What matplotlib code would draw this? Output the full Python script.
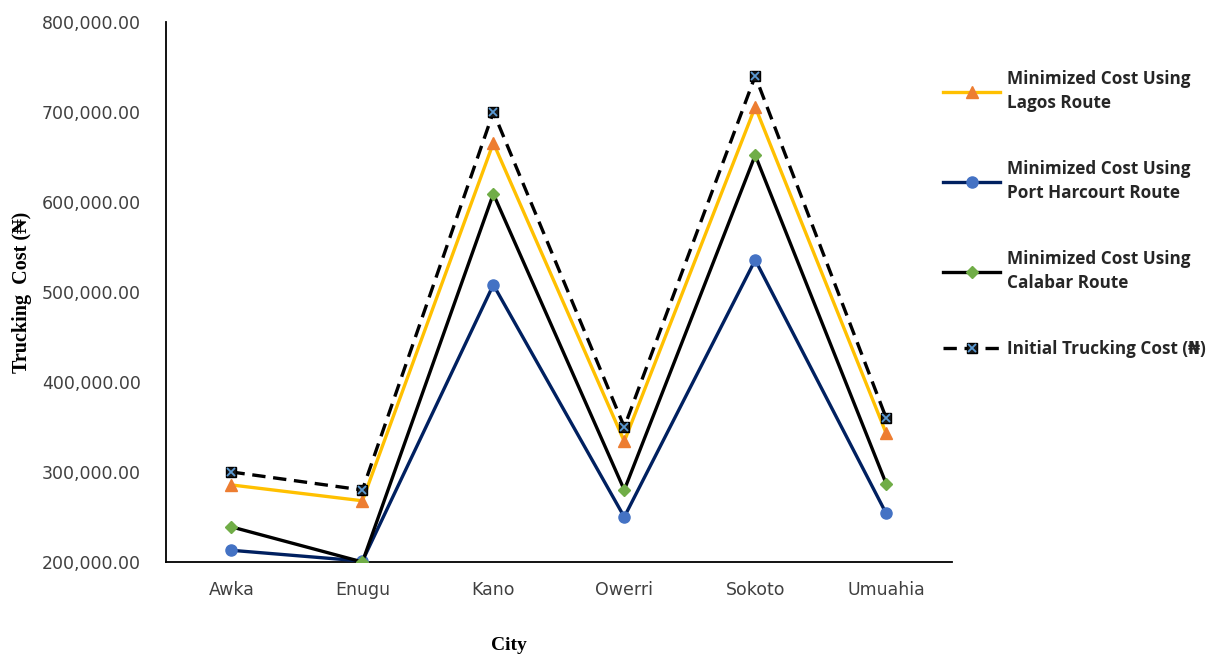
import matplotlib.pyplot as plt
from matplotlib.ticker import FuncFormatter
from matplotlib.lines import Line2D

# trucking cost per destination city (naira)
cities = ["Awka", "Enugu", "Kano", "Owerri", "Sokoto", "Umuahia"]
lagos_cost = [285600, 268000, 665600, 334000, 705600, 343000]
port_harcourt_cost = [213000, 201000, 508000, 250000, 535600, 254000]
calabar_cost = [239000, 200000, 609000, 280000, 652000, 287000]
initial_cost = [300000, 280000, 700000, 350000, 740000, 360000]

fig = plt.figure(figsize=(12.18, 6.55), dpi=100)
ax = fig.add_axes([0.1363, 0.142, 0.645, 0.8244])

x = list(range(len(cities)))
lw = 2.4
dash = (0, (4, 2.3))

ax.plot(x, lagos_cost, color="#FFC000", lw=lw, marker="^", ms=9,
        mfc="#ED7D31", mec="#ED7D31", zorder=3)
ax.plot(x, port_harcourt_cost, color="#002060", lw=lw, marker="o", ms=8,
        mfc="#4472C4", mec="#4472C4", zorder=3)
ax.plot(x, calabar_cost, color="black", lw=lw, marker="D", ms=6,
        mfc="#70AD47", mec="#70AD47", zorder=4)
ax.plot(x, initial_cost, color="black", lw=lw, ls=dash, marker="s", ms=7,
        mfc="#1a1a1a", mec="black", zorder=5)
ax.plot(x, initial_cost, ls="none", marker="x", ms=6, mew=1.3, color="#5B9BD5", zorder=6)

ax.set_xlim(-0.5, len(cities) - 0.5)
ax.set_ylim(200000, 800000)
ax.set_yticks(range(200000, 800001, 100000))
ax.yaxis.set_major_formatter(FuncFormatter(lambda v, p: f"{v:,.2f}"))
ax.set_xticks(x)
ax.set_xticklabels(cities)
ax.tick_params(axis="both", length=0, labelsize=12.5, colors="#404040")
ax.tick_params(axis="y", pad=18)
ax.tick_params(axis="x", pad=14)
for lbl in ax.get_xticklabels() + ax.get_yticklabels():
    lbl.set_family("DejaVu Sans")

for s in ["top", "right"]:
    ax.spines[s].set_visible(False)
for s in ["left", "bottom"]:
    ax.spines[s].set_linewidth(1.3)
    ax.spines[s].set_color("black")

serif = ["Liberation Serif", "DejaVu Serif"]
ax.set_ylabel("Trucking  Cost (₦)", family=serif, fontweight="bold", fontsize=14.5)
ax.set_xlabel("City", family=serif, fontweight="bold", fontsize=14)
ax.yaxis.set_label_coords(-0.171, 0.5)
ax.xaxis.set_label_coords(0.437, -0.138)

handles = [
    Line2D([], [], color="#FFC000", lw=lw, marker="^", ms=9, mfc="#ED7D31", mec="#ED7D31"),
    Line2D([], [], color="#002060", lw=lw, marker="o", ms=8, mfc="#4472C4", mec="#4472C4"),
    Line2D([], [], color="black", lw=lw, marker="D", ms=6, mfc="#70AD47", mec="#70AD47"),
    (Line2D([], [], color="black", lw=lw, ls=dash, marker="s", ms=7,
            mfc="#1a1a1a", mec="black"),
     Line2D([], [], ls="none", marker="x", ms=6, mew=1.3, color="#5B9BD5")),
]
labels = [
    "Minimized Cost Using\nLagos Route",
    "Minimized Cost Using\nPort Harcourt Route",
    "Minimized Cost Using\nCalabar Route",
    "Initial Trucking Cost (₦)",
]
leg = fig.legend(handles, labels, loc="upper left", bbox_to_anchor=(0.762, 0.917),
                 frameon=False, handlelength=3.3, handletextpad=0.4, labelspacing=2.8,
                 prop={"family": ["Open Sans", "DejaVu Sans"], "weight": "bold", "size": 12.3})
for t in leg.get_texts():
    t.set_color("#262626")
    t.set_linespacing(1.45)

fig.savefig("out.png", dpi=100)
